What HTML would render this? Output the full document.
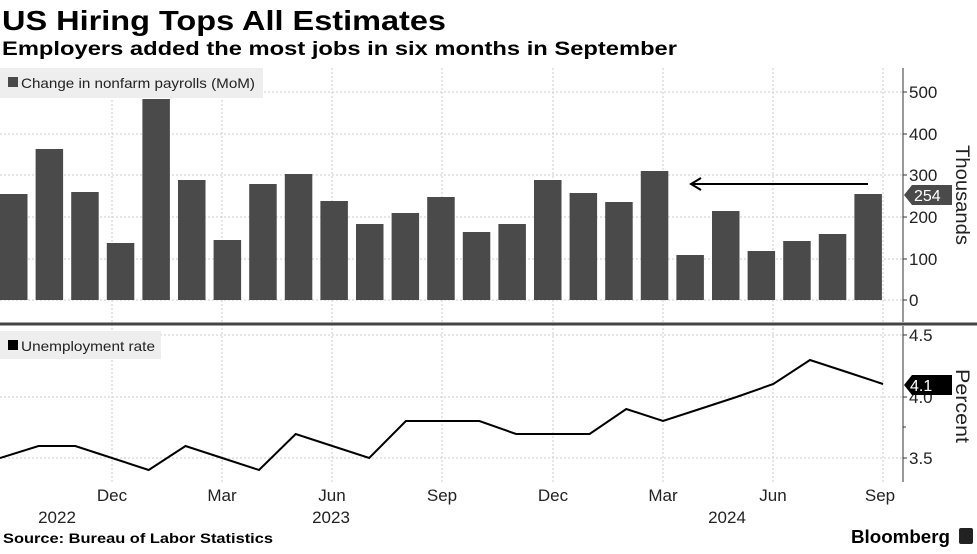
<!DOCTYPE html>
<html><head><meta charset="utf-8"><style>
body{margin:0;background:#fff;}
</style></head><body>
<svg width="977" height="549" xmlns="http://www.w3.org/2000/svg" font-family="Liberation Sans, sans-serif">
<rect width="977" height="549" fill="#fff"/>
<text x="2" y="30" font-size="28" font-weight="bold" fill="#000" textLength="444" lengthAdjust="spacingAndGlyphs">US Hiring Tops All Estimates</text>
<text x="2" y="55" font-size="19" font-weight="bold" fill="#000" textLength="675" lengthAdjust="spacingAndGlyphs">Employers added the most jobs in six months in September</text>
<g stroke="#ccc" stroke-dasharray="2,2" stroke-width="1">
<line x1="0" x2="903" y1="92" y2="92"/><line x1="0" x2="903" y1="134" y2="134"/><line x1="0" x2="903" y1="175" y2="175"/><line x1="0" x2="903" y1="217" y2="217"/><line x1="0" x2="903" y1="259" y2="259"/><line x1="0" x2="903" y1="300" y2="300"/>
<line x1="0" x2="903" y1="335" y2="335"/><line x1="0" x2="903" y1="397" y2="397"/><line x1="0" x2="903" y1="458" y2="458"/>
<line x1="112" x2="112" y1="68" y2="482"/><line x1="222" x2="222" y1="68" y2="482"/><line x1="332" x2="332" y1="68" y2="482"/><line x1="442" x2="442" y1="68" y2="482"/><line x1="553" x2="553" y1="68" y2="482"/><line x1="663" x2="663" y1="68" y2="482"/><line x1="773" x2="773" y1="68" y2="482"/><line x1="883" x2="883" y1="68" y2="482"/>
</g>
<rect x="0" y="68" width="263" height="30" fill="#eee"/>
<rect x="8" y="77" width="10" height="10" fill="#4a4a4a"/>
<text x="21" y="88" font-size="14" fill="#222" textLength="234" lengthAdjust="spacingAndGlyphs">Change in nonfarm payrolls (MoM)</text>
<g fill="#4a4a4a">
<rect x="0" y="194" width="27.5" height="106"/>
<rect x="35.6" y="149" width="27.5" height="151"/>
<rect x="71.2" y="192" width="27.5" height="108"/>
<rect x="106.8" y="243" width="27.5" height="57"/>
<rect x="142.4" y="99" width="27.5" height="201"/>
<rect x="178" y="180" width="27.5" height="120"/>
<rect x="213.6" y="240" width="27.5" height="60"/>
<rect x="249.2" y="184" width="27.5" height="116"/>
<rect x="284.8" y="174" width="27.5" height="126"/>
<rect x="320.4" y="201" width="27.5" height="99"/>
<rect x="356" y="224" width="27.5" height="76"/>
<rect x="391.6" y="213" width="27.5" height="87"/>
<rect x="427.2" y="197" width="27.5" height="103"/>
<rect x="462.8" y="232" width="27.5" height="68"/>
<rect x="498.4" y="224" width="27.5" height="76"/>
<rect x="534" y="180" width="27.5" height="120"/>
<rect x="569.6" y="193" width="27.5" height="107"/>
<rect x="605.2" y="202" width="27.5" height="98"/>
<rect x="640.8" y="171" width="27.5" height="129"/>
<rect x="676.4" y="255" width="27.5" height="45"/>
<rect x="712" y="211" width="27.5" height="89"/>
<rect x="747.6" y="251" width="27.5" height="49"/>
<rect x="783.2" y="241" width="27.5" height="59"/>
<rect x="818.8" y="234" width="27.5" height="66"/>
<rect x="854.4" y="194" width="27.5" height="106"/>
</g>
<line x1="868" y1="184" x2="692" y2="184" stroke="#000" stroke-width="2"/>
<polyline points="701,178 691,184 701,190" fill="none" stroke="#000" stroke-width="2"/>
<line x1="0" x2="977" y1="324" y2="324" stroke="#444" stroke-width="3"/>
<line x1="903" x2="903" y1="68" y2="322" stroke="#333" stroke-width="1"/>
<line x1="903" x2="903" y1="326" y2="482" stroke="#333" stroke-width="1"/>
<g stroke="#333"><line x1="903" x2="907" y1="92" y2="92"/><line x1="903" x2="907" y1="134" y2="134"/><line x1="903" x2="907" y1="175" y2="175"/><line x1="903" x2="907" y1="217" y2="217"/><line x1="903" x2="907" y1="259" y2="259"/><line x1="903" x2="907" y1="300" y2="300"/><line x1="903" x2="907" y1="335" y2="335"/><line x1="903" x2="907" y1="397" y2="397"/><line x1="903" x2="907" y1="458" y2="458"/><line x1="903" x2="906" y1="427" y2="427"/></g>
<g font-size="17" fill="#222">
<text x="909" y="98">500</text><text x="909" y="140">400</text><text x="909" y="181">300</text><text x="909" y="223">200</text><text x="909" y="265">100</text><text x="909" y="306">0</text>
<text x="909" y="341">4.5</text><text x="909" y="403">4.0</text><text x="909" y="464">3.5</text>
</g>
<polygon points="904,195 912,185 952,185 952,205 912,205" fill="#4a4a4a"/>
<text x="914" y="201" font-size="16" fill="#fff">254</text>
<polygon points="904,385 912,375 952,375 952,395 912,395" fill="#000"/>
<text x="910" y="391" font-size="16" fill="#fff">4.1</text>
<text transform="translate(956,145) rotate(90)" font-size="19" fill="#222" textLength="100" lengthAdjust="spacingAndGlyphs">Thousands</text>
<text transform="translate(956,369) rotate(90)" font-size="19" fill="#222" textLength="74" lengthAdjust="spacingAndGlyphs">Percent</text>
<rect x="0" y="331" width="161" height="28" fill="#eee"/>
<rect x="8" y="340" width="10" height="10" fill="#000"/>
<text x="21" y="351" font-size="14" fill="#222" textLength="134" lengthAdjust="spacingAndGlyphs">Unemployment rate</text>
<polyline fill="none" stroke="#000" stroke-width="2" points="0,458 38.5,446 75.3,446 112,458 148.7,470 185.5,446 222.2,458 259,470 295.7,434 332.4,446 369.2,458 405.9,421 442.6,421 479.4,421 516.1,434 552.8,434 589.6,434 626.3,409 663,421 699.8,409 736.5,397 773.3,384 810,360 846.7,372 883,384"/>
<g font-size="17" fill="#222" text-anchor="middle">
<text x="112" y="501">Dec</text><text x="222" y="501">Mar</text><text x="332" y="501">Jun</text><text x="442" y="501">Sep</text><text x="553" y="501">Dec</text><text x="663" y="501">Mar</text><text x="773" y="501">Jun</text><text x="880" y="501">Sep</text>
<text x="57" y="523">2022</text><text x="331" y="523">2023</text><text x="727" y="523">2024</text>
</g>
<text x="3" y="543" font-size="14" font-weight="bold" fill="#000" textLength="270" lengthAdjust="spacingAndGlyphs">Source: Bureau of Labor Statistics</text>
<text x="851" y="543" font-size="18" font-weight="bold" fill="#000" textLength="99" lengthAdjust="spacingAndGlyphs">Bloomberg</text>
<rect x="959" y="528" width="14" height="16" rx="2" fill="#222"/>
</svg>
</body></html>
